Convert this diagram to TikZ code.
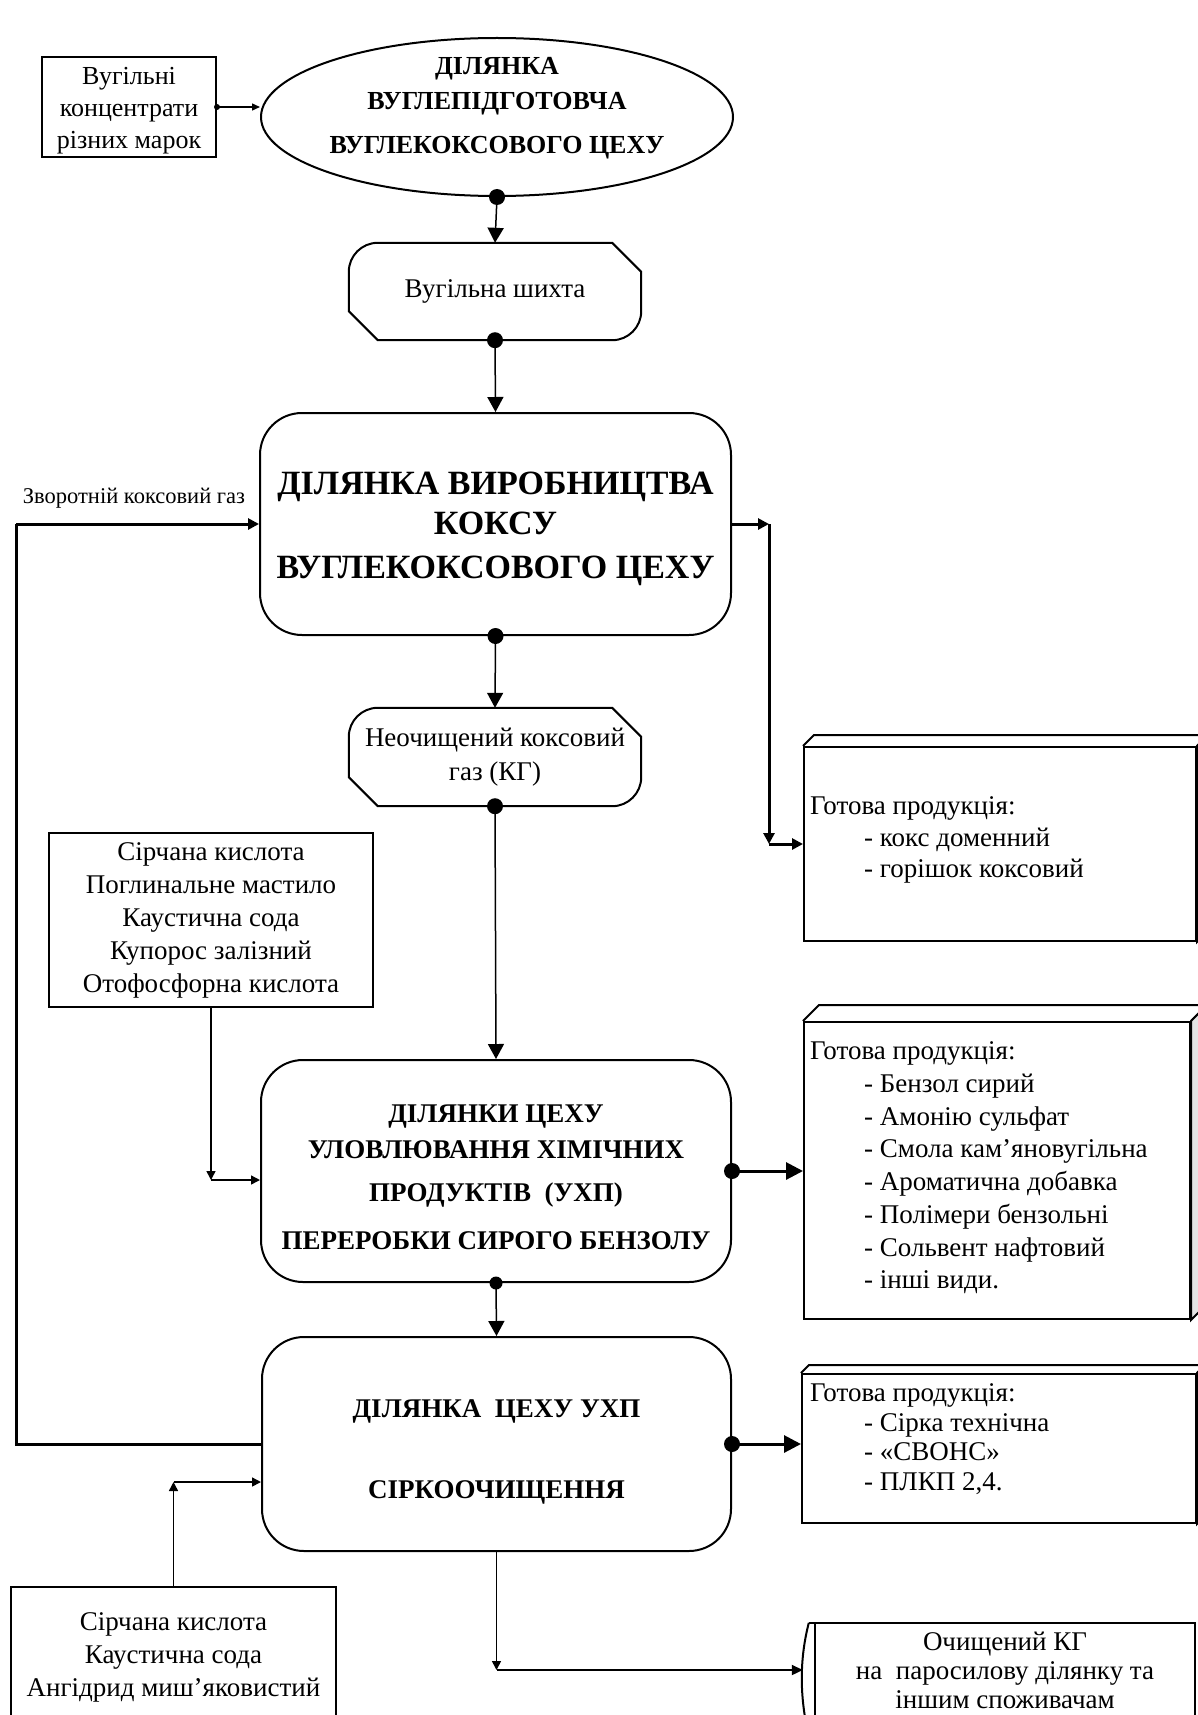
\documentclass[tikz,border=0pt]{standalone}
\usepackage{fontspec}
\setmainfont{Liberation Serif}
\usetikzlibrary{shapes.geometric,arrows.meta,calc}
\begin{document}
\begin{tikzpicture}[x=1pt,y=-1pt,
  box/.style={draw, line width=2pt, inner sep=0pt},
  rbox/.style={box, rounded corners=42pt},
  norm/.style={font=\fontsize{27}{33}\selectfont, align=center},
  boldtxt/.style={font=\bfseries\fontsize{27}{33}\selectfont, align=center, inner sep=0pt},
  bigdot/.style={circle, fill=black, inner sep=0pt, minimum size=16pt},
  middot/.style={circle, fill=black, inner sep=0pt, minimum size=13pt},
  tinydot/.style={circle, fill=black, inner sep=0pt, minimum size=6pt},
  flow/.style={line width=1.5pt, -{Triangle[length=15pt,width=16pt]}},
  flowsmall/.style={line width=1.5pt, -{Triangle[length=9pt,width=9pt]}},
  heavy/.style={line width=3pt, -{Triangle[length=11pt,width=11pt]}},
  heavybig/.style={line width=3pt, -{Triangle[length=17pt,width=17pt]}},
  prodtxt/.style={anchor=west, align=left, inner sep=0pt},
  side/.style={line width=2pt, fill=gray!22},
]
\useasboundingbox (0,0) rectangle (1198,1715);

% ---------- top: coal input and preparation ellipse
\node[box, minimum width=174pt, minimum height=100pt] (coal) at (129,107) {};
\node[norm, font=\fontsize{26}{32}\selectfont, inner sep=0pt] (coalT) at (129,111) {Вугільні\\концентрати\\різних марок};
\node[ellipse, draw, line width=2pt, inner sep=0pt, minimum width=472pt, minimum height=158pt] (prep) at (497,117) {};
\node[boldtxt, font=\bfseries\fontsize{26}{35}\selectfont] (prepT) at (497,108)
      {ДІЛЯНКА\\ВУГЛЕПІДГОТОВЧА\\[9pt]ВУГЛЕКОКСОВОГО ЦЕХУ};
\node[tinydot] (coaldot) at (coal.east) {};
\draw[line width=1.4pt, -{Triangle[length=8pt,width=7pt]}] (coal.east) -- (prep.west |- coal.east);

% ---------- coal charge
\node[norm, minimum width=292pt, minimum height=97pt, inner sep=0pt] (shixta) at (495,291.5) {Вугільна шихта};
\draw[line width=2pt] ($(shixta.north west)+(0,29)$) arc[start angle=180, end angle=90, radius=29pt]
  -- ($(shixta.north east)+(-29,0)$) -- ($(shixta.north east)+(0,29)$)
  -- ($(shixta.south east)+(0,-29)$) arc[start angle=0, end angle=-90, radius=29pt]
  -- ($(shixta.south west)+(29,0)$) -- ($(shixta.south west)+(0,-29)$) -- cycle;

% ---------- coke production
\node[rbox, minimum width=471pt, minimum height=222pt] (coke) at (495.5,524) {};
\node[boldtxt, font=\bfseries\fontsize{34}{40}\selectfont] (cokeT) at (495.5,529)
  {ДІЛЯНКА ВИРОБНИЦТВА\\КОКСУ\\[4pt]ВУГЛЕКОКСОВОГО ЦЕХУ};

% ---------- raw coke gas
\node[norm, font=\fontsize{27}{34}\selectfont, minimum width=292pt, minimum height=98pt, inner sep=0pt] (neo) at (495,757) {Неочищений коксовий\\газ (КГ)};
\draw[line width=2pt] ($(neo.north west)+(0,29)$) arc[start angle=180, end angle=90, radius=29pt]
  -- ($(neo.north east)+(-29,0)$) -- ($(neo.north east)+(0,29)$)
  -- ($(neo.south east)+(0,-29)$) arc[start angle=0, end angle=-90, radius=29pt]
  -- ($(neo.south west)+(29,0)$) -- ($(neo.south west)+(0,-29)$) -- cycle;

% ---------- chemical products recovery
\node[rbox, minimum width=470pt, minimum height=222pt] (uvlov) at (496,1171) {};
\node[boldtxt, font=\bfseries\fontsize{27}{36}\selectfont] (uvlovT) at (496,1177)
  {ДІЛЯНКИ ЦЕХУ\\УЛОВЛЮВАННЯ ХІМІЧНИХ\\[7pt]ПРОДУКТІВ\ \ (УХП)\\[12pt]ПЕРЕРОБКИ СИРОГО БЕНЗОЛУ};

% ---------- desulphurisation
\node[rbox, minimum width=469pt, minimum height=214pt] (sera) at (496.5,1444) {};
\node[boldtxt] (seraT) at (496.5,1452) {ДІЛЯНКА\ \ ЦЕХУ УХП\\[48pt]СІРКООЧИЩЕННЯ};

% ---------- reagent boxes
\node[box, norm, minimum width=324pt, minimum height=174pt] (chem1) at (211,920)
  {Сірчана кислота\\Поглинальне мастило\\Каустична сода\\Купорос залізний\\Отофосфорна кислота};
\node[box, norm, minimum width=325pt, minimum height=140pt] (chem2) at (173.5,1657)
  {Сірчана кислота\\Каустична сода\\Ангідрид миш’яковистий};

% ---------- product boxes
\node[box, minimum width=392pt, minimum height=194pt] (prod1) at (1000,844) {};
\draw[line width=2pt] (prod1.north west) -- ++(11,-11) -- ($(prod1.north east)+(11,-11)$) -- (prod1.north east);
\draw[side] (prod1.north east) -- ++(11,-11) -- ($(prod1.south east)+(11,-11)$) -- (prod1.south east) -- cycle;
\node[prodtxt, font=\fontsize{27}{31.5}\selectfont] (prod1T) at (810,840)
  {Готова продукція:\\\hspace*{54pt}- кокс доменний\\\hspace*{54pt}- горішок коксовий};

\node[box, minimum width=386pt, minimum height=297pt] (prod2) at (997,1170.5) {};
\draw[line width=2pt] (prod2.north west) -- ++(16,-16) -- ($(prod2.north east)+(16,-16)$) -- (prod2.north east);
\draw[side] (prod2.north east) -- ++(16,-16) -- ($(prod2.south east)+(16,-16)$) -- (prod2.south east) -- cycle;
\node[prodtxt, font=\fontsize{27}{32.7}\selectfont] (prod2T) at (810,1168)
  {Готова продукція:\\\hspace*{54pt}- Бензол сирий\\\hspace*{54pt}- Амонію сульфат\\\hspace*{54pt}- Смола кам’яновугільна\\\hspace*{54pt}- Ароматична добавка\\\hspace*{54pt}- Полімери бензольні\\\hspace*{54pt}- Сольвент нафтовий\\\hspace*{54pt}- інші види.};

\node[box, minimum width=394pt, minimum height=149pt] (prod3) at (999,1448.5) {};
\draw[line width=2pt] (prod3.north west) -- ++(8,-8) -- ($(prod3.north east)+(8,-8)$) -- (prod3.north east);
\draw[side] (prod3.north east) -- ++(8,-8) -- ($(prod3.south east)+(8,-8)$) -- (prod3.south east) -- cycle;
\node[prodtxt, font=\fontsize{27}{29.5}\selectfont] (prod3T) at (810,1439)
  {Готова продукція:\\\hspace*{54pt}- Сірка технічна\\\hspace*{54pt}- «СВОНС»\\\hspace*{54pt}- ПЛКП 2,4.};

% ---------- cleaned gas
\node[norm, font=\fontsize{27}{29}\selectfont, minimum width=380pt, minimum height=94pt, inner sep=0pt] (clean) at (1005,1670)
  {Очищений КГ\\на\ \ паросилову ділянку та\\іншим споживачам};
\draw[line width=2pt] ($(clean.north west)+(-6,0)$) -- (clean.north east) -- ($(clean.south east)+(0,10)$);
\draw[line width=2pt] (clean.north west) -- ($(clean.south west)+(0,10)$);
\draw[line width=2pt] ($(clean.north west)+(-6,0)$) .. controls ($(clean.north west)+(-15,35)$) and ($(clean.south west)+(-15,-25)$) .. ($(clean.south west)+(-8,10)$);

% ---------- label
\node[font=\fontsize{22.5}{26}\selectfont] (fblabel) at (134,498) {Зворотній коксовий газ};

% ---------- main chain
\node[bigdot] (d1) at (prep.south) {};
\draw[flow] (prep.south) -- (shixta.north);
\node[bigdot] (d2) at (shixta.south) {};
\draw[flow] (shixta.south) -- (coke.north);
\node[bigdot] (d3) at (coke.south) {};
\draw[flow] (coke.south) -- (neo.north);
\node[bigdot] (d4) at (neo.south) {};
\draw[flow] (neo.south) -- (uvlov.north);
\node[middot] (d5) at (uvlov.south) {};
\draw[flow] (uvlov.south) -- (sera.north);

% ---------- product outputs
\node[bigdot] (d6) at (uvlov.east) {};
\draw[heavybig] (uvlov.east) -- (uvlov.east -| prod2.west);
\node[bigdot] (d7) at (sera.east) {};
\draw[heavybig] (sera.east) -- (sera.east -| prod3.west);

% coke products
\coordinate (rx) at (769,0);
\draw[heavy] (coke.east) -- (coke.east -| rx);
\draw[heavy] (coke.east -| rx) -- (prod1.west -| rx);
\draw[heavy] (prod1.west -| rx) -- (prod1.west);

% return gas
\coordinate (fbx) at (16,0);
\draw[line width=3pt] (sera.west) -- (sera.west -| fbx) -- (coke.west -| fbx);
\draw[heavy] (coke.west -| fbx) -- (coke.west);

% reagents 1
\coordinate (r1) at (chem1.south |- 0,1180);
\draw[flowsmall] (chem1.south) -- (r1);
\draw[flowsmall] (r1) -- (r1 -| uvlov.west);

% reagents 2
\coordinate (r2) at (chem2.north |- 0,1482);
\draw[flowsmall] (chem2.north) -- (r2);
\draw[flowsmall] (r2) -- (r2 -| sera.west);

% cleaned gas out
\coordinate (r3) at (sera.south |- 0,1670);
\draw[flowsmall] (sera.south) -- (r3);
\draw[line width=2pt, -{Triangle[length=11pt,width=10pt]}, shorten >=12pt] (r3) -- (r3 -| clean.west);
\end{tikzpicture}
\end{document}
